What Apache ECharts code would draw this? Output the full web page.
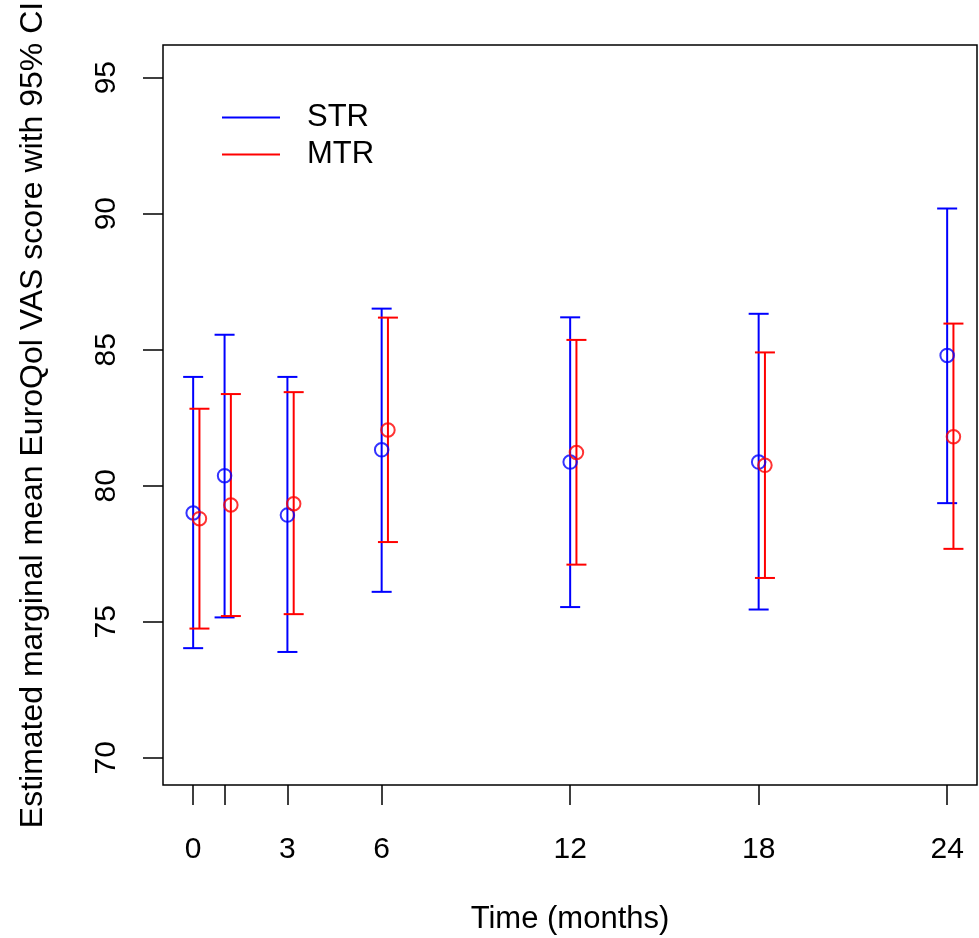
<!DOCTYPE html>
<html>
<head>
<meta charset="utf-8">
<script src="https://cdn.jsdelivr.net/npm/echarts@6/dist/echarts.min.js"></script>
<style>
html,body{margin:0;padding:0;background:#fff;}
#chart{width:979px;height:938px;}
</style>
</head>
<body>
<div id="chart"></div>
<script>
// ---- data ----
const timeMonths = [0, 1, 3, 6, 12, 18, 24];
const xTickLabels = [0, 3, 6, 12, 18, 24];
const yTickLabels = [70, 75, 80, 85, 90, 95];
const seriesNames = ['STR', 'MTR'];
const strMean = [79.0, 80.37, 78.92, 81.32, 80.87, 80.87, 84.79];
const strLow  = [74.03, 75.16, 73.89, 76.10, 75.54, 75.45, 79.36];
const strHigh = [84.0, 85.55, 84.0, 86.51, 86.19, 86.32, 90.19];
const mtrMean = [78.79, 79.29, 79.34, 82.05, 81.22, 80.75, 81.8];
const mtrLow  = [74.75, 75.21, 75.28, 77.93, 77.10, 76.61, 77.68];
const mtrHigh = [82.83, 83.37, 83.44, 86.18, 85.36, 84.90, 85.96];

// ---- build ----
const dodge = 0.2;
const FONT = 'Liberation Sans, Arial, sans-serif';
const colors = {STR: '#0000ff', MTR: '#ff0000'};

function ciData(xs, lo, hi, off) {
  return xs.map((t, i) => [t + off, lo[i], hi[i]]);
}
function ptData(xs, m, off) {
  return xs.map((t, i) => [t + off, m[i]]);
}
function errorBar(params, api) {
  const x = api.value(0);
  const lo = api.coord([x, api.value(1)]);
  const hi = api.coord([x, api.value(2)]);
  const hw = 10;
  const style = {stroke: api.visual('color'), lineWidth: 2, fill: null};
  return {
    type: 'group',
    children: [
      {type: 'line', shape: {x1: lo[0], y1: lo[1], x2: hi[0], y2: hi[1]}, style: style},
      {type: 'line', shape: {x1: lo[0] - hw, y1: lo[1], x2: lo[0] + hw, y2: lo[1]}, style: style},
      {type: 'line', shape: {x1: hi[0] - hw, y1: hi[1], x2: hi[0] + hw, y2: hi[1]}, style: style}
    ]
  };
}

const groups = [
  {name: 'STR', mean: strMean, lo: strLow, hi: strHigh, off: 0},
  {name: 'MTR', mean: mtrMean, lo: mtrLow, hi: mtrHigh, off: dodge}
];
const series = [];
groups.forEach(g => {
  series.push({
    name: g.name, type: 'custom', renderItem: errorBar,
    itemStyle: {color: colors[g.name]},
    encode: {x: 0, y: [1, 2]},
    data: ciData(timeMonths, g.lo, g.hi, g.off), z: 2
  });
});
groups.forEach(g => {
  series.push({
    name: g.name, type: 'scatter', symbol: 'circle', symbolSize: 13.5,
    itemStyle: {color: 'rgba(0,0,0,0)', borderColor: colors[g.name], borderWidth: 2},
    data: ptData(timeMonths, g.mean, g.off), z: 3
  });
});

const chart = echarts.init(document.getElementById('chart'), null, {renderer: 'canvas'});
chart.setOption({
  animation: false,
  backgroundColor: '#ffffff',
  textStyle: {fontFamily: FONT},
  grid: {left: 163, top: 45, right: 2, bottom: 153, containLabel: false, outerBoundsMode: 'none',
         show: true, borderColor: '#000', borderWidth: 1.5, backgroundColor: 'transparent'},
  legend: {
    data: seriesNames.map(n => ({name: n, itemStyle: {color: colors[n]}})),
    orient: 'vertical', left: 217, top: 97,
    icon: 'rect', itemWidth: 58, itemHeight: 2, itemGap: 6,
    textStyle: {fontSize: 31, color: '#000', fontFamily: FONT, padding: [0, 0, 0, 22]},
    selectedMode: false
  },
  xAxis: {
    type: 'value', min: -0.96, max: 24.95,
    name: 'Time (months)', nameLocation: 'middle', nameGap: 119,
    nameTextStyle: {fontSize: 31, color: '#000', fontFamily: FONT},
    axisLine: {show: false, onZero: false},
    axisTick: {show: true, inside: false, length: 20, lineStyle: {color: '#000', width: 1.5}, customValues: timeMonths},
    axisLabel: {fontSize: 30, color: '#000', margin: 50, fontFamily: FONT, customValues: xTickLabels},
    splitLine: {show: false}
  },
  yAxis: {
    type: 'value', min: 69.0, max: 96.2,
    name: 'Estimated marginal mean EuroQol VAS score with 95% CI',
    nameLocation: 'middle', nameGap: 114, nameRotate: 90,
    nameTextStyle: {fontSize: 32, color: '#000', fontFamily: FONT},
    axisLine: {show: false, onZero: false},
    axisTick: {show: true, inside: false, length: 20, lineStyle: {color: '#000', width: 1.5}, customValues: yTickLabels},
    axisLabel: {fontSize: 30, color: '#000', margin: 41, rotate: 90, fontFamily: FONT, customValues: yTickLabels},
    splitLine: {show: false}
  },
  series: series
});
</script>
</body>
</html>
